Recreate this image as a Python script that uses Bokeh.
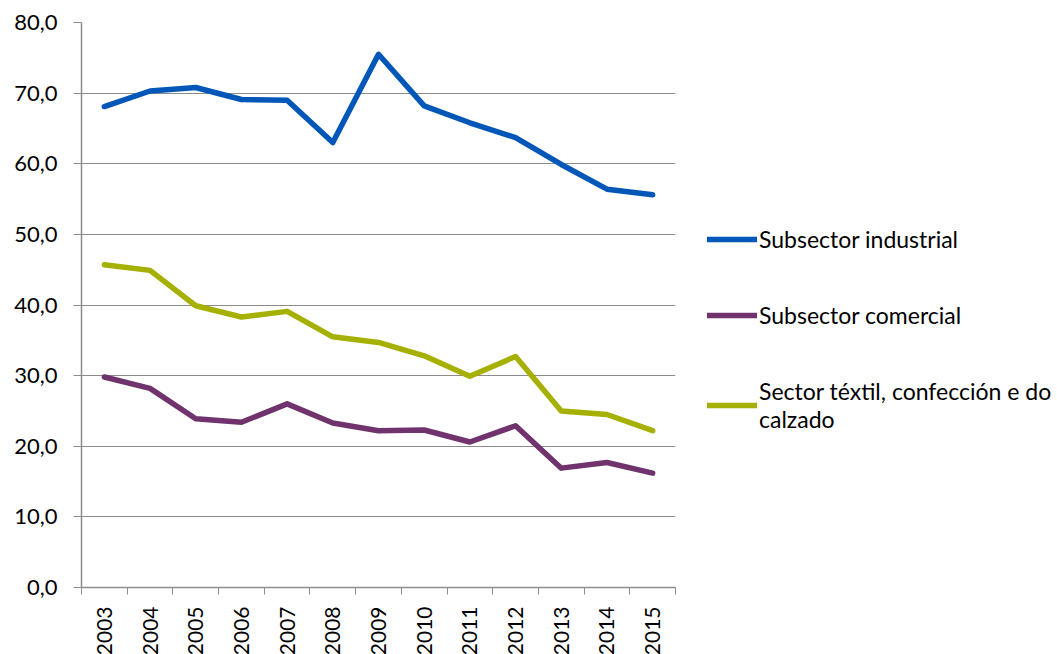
from bokeh.plotting import figure
from bokeh.models import FixedTicker, Legend, LegendItem, Range1d
from bokeh.embed import file_html
from bokeh.resources import INLINE
import math

years = ["2003", "2004", "2005", "2006", "2007", "2008", "2009",
         "2010", "2011", "2012", "2013", "2014", "2015"]
industrial = [68.1, 70.3, 70.8, 69.1, 69.0, 63.0, 75.5, 68.2, 65.8, 63.7, 59.9, 56.4, 55.6]
comercial = [29.8, 28.2, 23.9, 23.4, 26.0, 23.3, 22.2, 22.3, 20.6, 22.9, 16.9, 17.7, 16.2]
textil = [45.7, 44.9, 39.9, 38.3, 39.1, 35.5, 34.7, 32.8, 29.9, 32.7, 25.0, 24.5, 22.2]
series_names = ["Subsector industrial", "Subsector comercial",
                "Sector téxtil, confección e do\ncalzado"]
colors = ["#0057B8", "#70336E", "#A5B000"]
y_ticks = [0, 10, 20, 30, 40, 50, 60, 70, 80]
y_tick_labels = ["0,0", "10,0", "20,0", "30,0", "40,0", "50,0", "60,0", "70,0", "80,0"]

FONT = "Lato"
n = len(years)
xs = [i + 0.5 for i in range(n)]

p = figure(frame_width=594, frame_height=565, output_backend="svg", toolbar_location=None,
           x_range=Range1d(0, n), y_range=Range1d(0, 80),
           min_border_left=81, min_border_right=0, min_border_top=22,
           min_border_bottom=60)
p.outline_line_color = None
p.background_fill_color = "white"

renderers = []
for vals, c in zip([industrial, comercial, textil], colors):
    r = p.line(xs, vals, line_color=c, line_width=5.5, line_cap="round", line_join="round")
    renderers.append(r)

# x axis: labels at centers, ticks at category boundaries
p.xaxis.ticker = FixedTicker(ticks=xs, minor_ticks=list(range(n + 1)))
p.xaxis.major_label_overrides = {x: y for x, y in zip(xs, years)}
p.xaxis.major_tick_out = 0
p.xaxis.major_tick_in = 0
p.xaxis.minor_tick_out = 7
p.xaxis.minor_tick_in = 0
p.xaxis.minor_tick_line_color = "#8c8c8c"
p.xaxis.major_label_orientation = math.pi / 2
p.xaxis.major_label_standoff = 12
p.xaxis.major_label_text_font_size = "21px"
p.xaxis.axis_line_color = "#8c8c8c"

p.yaxis.ticker = FixedTicker(ticks=y_ticks)
p.yaxis.major_label_overrides = {t: l for t, l in zip(y_ticks, y_tick_labels)}
p.yaxis.major_tick_out = 8
p.yaxis.major_tick_in = 0
p.yaxis.minor_tick_line_color = None
p.yaxis.major_tick_line_color = "#8c8c8c"
p.yaxis.axis_line_color = "#8c8c8c"
p.yaxis.major_label_standoff = 16
p.yaxis.major_label_text_font_size = "22px"

for ax in [p.xaxis[0], p.yaxis[0]]:
    ax.major_label_text_font = FONT
    ax.major_label_text_color = "#000000"
    ax.axis_line_width = 1.5

p.xgrid.grid_line_color = None
p.ygrid.grid_line_color = "#8c8c8c"
p.ygrid.grid_line_width = 1.2

legend = Legend(items=[LegendItem(label=nm, renderers=[r]) for nm, r in zip(series_names, renderers)],
                location=(32, 154))
legend.border_line_color = None
legend.background_fill_alpha = 0
legend.label_text_font = FONT
legend.label_text_font_size = "23px"
legend.label_text_line_height = 1.35
legend.label_text_color = "#000000"
legend.glyph_width = 50
legend.glyph_height = 20
legend.label_height = 20
legend.label_standoff = 2
legend.spacing = 48
legend.padding = 0
legend.margin = 0
p.add_layout(legend, "right")

open("out.html", "w").write(file_html(p, INLINE))
